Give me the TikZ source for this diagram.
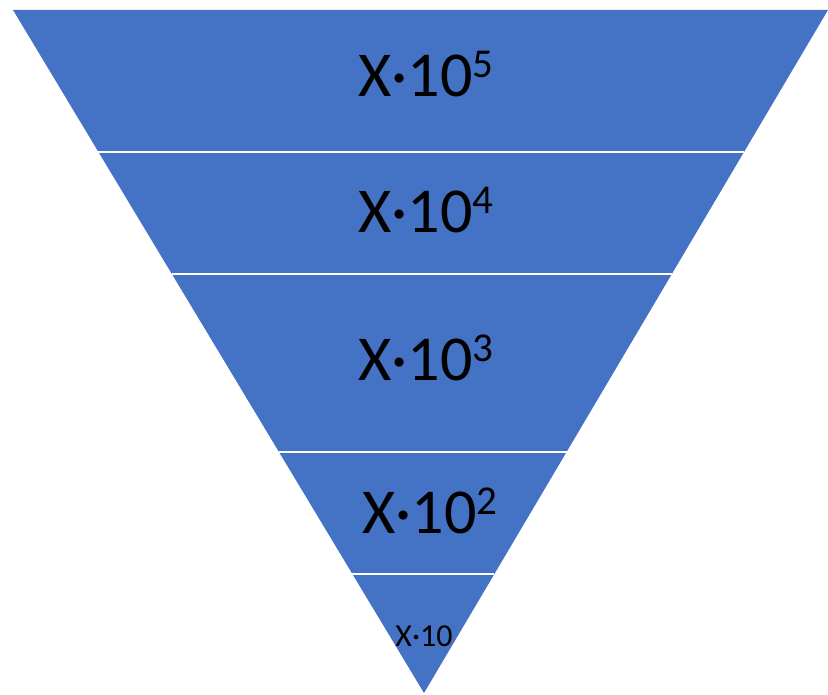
\documentclass[tikz,border=0pt]{standalone}
\usepackage{fontspec}
\setmainfont{Carlito}
\usepackage{tikz}
\usetikzlibrary{calc}
\definecolor{bandblue}{RGB}{68,114,196}
\newcommand{\pw}[1]{\raisebox{19pt}{\fontsize{41}{44}\selectfont #1}}

\begin{document}
\begin{tikzpicture}[
    x=1pt, y=-1pt,
    band/.style={fill=bandblue, draw=none},
    gap/.style={draw=white, line width=2pt},
    lbl/.style={font=\fontsize{64}{70}\selectfont, text=black, inner sep=0pt, anchor=base},
]
\useasboundingbox (0,0) rectangle (828,695);

% Outline
\coordinate (tl) at (13,10);
\coordinate (tr) at (828,10);
\coordinate (ap) at (424,693);
\fill[band] (tl) -- (tr) -- (ap) -- cycle;

% Separators
\draw[gap] ($(tl)!0.2079!(ap)$) -- ($(tr)!0.2079!(ap)$);
\draw[gap] ($(tl)!0.3865!(ap)$) -- ($(tr)!0.3865!(ap)$);
\draw[gap] ($(tl)!0.6471!(ap)$) -- ($(tr)!0.6471!(ap)$);
\draw[gap] ($(tl)!0.8258!(ap)$) -- ($(tr)!0.8258!(ap)$);

% Labels
\node[lbl] (l5) at (426,97) {X·10\pw{5}};
\node[lbl] (l4) at (426,233) {X·10\pw{4}};
\node[lbl] (l3) at (426,380) {X·10\pw{3}};
\node[lbl] (l2) at (430,533) {X·10\pw{2}};
\node[lbl, font=\fontsize{32}{36}\selectfont] (l1) at (424,646) {X·10};
\end{tikzpicture}
\end{document}
